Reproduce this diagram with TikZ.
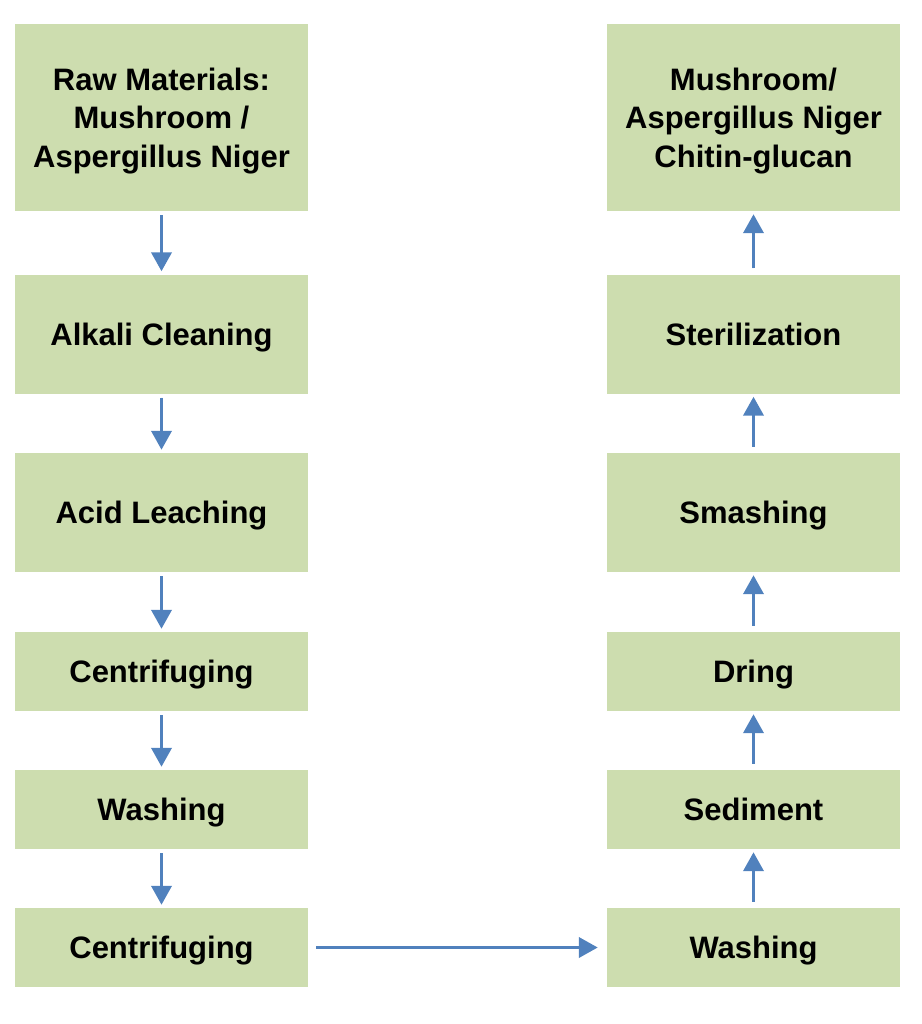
\documentclass[tikz,border=0pt]{standalone}
\usepackage{fontspec}
\setmainfont{Liberation Sans}
\usetikzlibrary{arrows.meta}
\definecolor{stageGreen}{RGB}{205,221,175}
\definecolor{stageBlue}{RGB}{80,129,189}
\tikzstyle{stageBox}=[shape = rectangle, fill = stageGreen, minimum width = 293pt, inner sep = 0pt, align = center, text height = 30.2pt, text depth = 8pt, font = \fontsize{31}{38.5}\selectfont\bfseries]
\tikzstyle{stageArrow}=[draw = stageBlue, fill = stageBlue, line width = 3.8pt, -{Triangle[length = 19pt, width = 20pt]}, shorten <= 4pt, shorten >= 3pt]

\begin{document}
\begin{tikzpicture}[x = 1pt, y = -1pt]
\useasboundingbox (0,0) rectangle (921,1024);
\tikzstyle{tallBox}=[stageBox, minimum height = 187pt, text height = 107.2pt]
\tikzstyle{midBox}=[stageBox, minimum height = 119pt]
\tikzstyle{lowBox}=[stageBox, minimum height = 79pt]
% left column, top to bottom
\node[tallBox] (v0) at (161.5, 117.5) {Raw Materials:\\Mushroom /\\Aspergillus Niger};
\node[midBox] (v1) at (161.5, 334) {Alkali Cleaning};
\node[midBox] (v2) at (161.5, 512.5) {Acid Leaching};
\node[lowBox] (v3) at (161.5, 671.5) {Centrifuging};
\node[lowBox] (v4) at (161.5, 809.5) {Washing};
\node[lowBox] (v5) at (161.5, 947.5) {Centrifuging};
% right column, bottom to top
\node[lowBox] (v6) at (753.5, 947.5) {Washing};
\node[lowBox] (v7) at (753.5, 809.5) {Sediment};
\node[lowBox] (v8) at (753.5, 671.5) {Dring};
\node[midBox] (v9) at (753.5, 512.5) {Smashing};
\node[midBox] (v10) at (753.5, 334) {Sterilization};
\node[tallBox] (v11) at (753.5, 117.5) {Mushroom/\\Aspergillus Niger\\Chitin-glucan};
\draw[stageArrow] (v0) -- (v1);
\draw[stageArrow] (v1) -- (v2);
\draw[stageArrow] (v2) -- (v3);
\draw[stageArrow] (v3) -- (v4);
\draw[stageArrow] (v4) -- (v5);
\draw[stageArrow, shorten <= 8pt, shorten >= 9pt] (v5) -- (v6);
\draw[stageArrow, shorten <= 6pt] (v6) -- (v7);
\draw[stageArrow, shorten <= 6pt] (v7) -- (v8);
\draw[stageArrow, shorten <= 6pt] (v8) -- (v9);
\draw[stageArrow, shorten <= 6pt] (v9) -- (v10);
\draw[stageArrow, shorten <= 6pt] (v10) -- (v11);
\end{tikzpicture}
\end{document}
